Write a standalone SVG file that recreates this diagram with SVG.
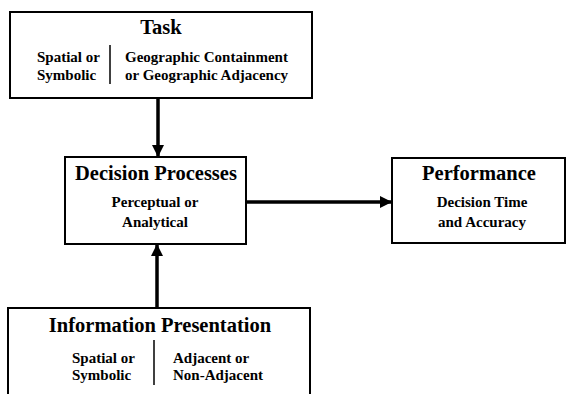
<svg xmlns="http://www.w3.org/2000/svg" width="569" height="394" viewBox="0 0 569 394">
<defs>
<style>
.box{fill:#fff;stroke:#000;stroke-width:2}
.div{stroke:#000;stroke-width:1.5}
text{font-family:'Liberation Serif','DejaVu Serif',serif;font-weight:bold;fill:#000}
.h{font-size:20.5px;text-anchor:middle}
.s{font-size:15px}
.c{text-anchor:middle}
.conn{stroke:#000;stroke-width:3.5;fill:none}
</style>
<marker id="ah" viewBox="0 0 10 10" refX="10" refY="5" markerWidth="16" markerHeight="12" markerUnits="userSpaceOnUse" orient="auto">
<path d="M0,0 L10,5 L0,10 Z" fill="#000"/>
</marker>
</defs>
<rect width="569" height="394" fill="#fff"/>
<g id="connectors">
<line class="conn" x1="158" y1="98" x2="158" y2="157" marker-end="url(#ah)"/>
<line class="conn" x1="157" y1="308" x2="157" y2="244" marker-end="url(#ah)"/>
<line class="conn" x1="246" y1="202" x2="392" y2="202" marker-end="url(#ah)"/>
</g>
<g id="task" font-family="Liberation Serif, serif">
<rect class="box" x="10" y="12" width="302" height="86"/>
<text class="h" x="161" y="34">Task</text>
<line class="div" x1="110" y1="45" x2="110" y2="84"/>
<text class="s" x="37" y="62">Spatial or</text>
<text class="s" x="37" y="80">Symbolic</text>
<text class="s" x="125" y="62">Geographic Containment</text>
<text class="s" x="125" y="80">or Geographic Adjacency</text>
</g>
<g id="decision">
<rect class="box" x="65" y="157" width="181" height="87"/>
<text class="h" x="156" y="180">Decision Processes</text>
<text class="s c" x="155" y="207">Perceptual or</text>
<text class="s c" x="155" y="227">Analytical</text>
</g>
<g id="performance">
<rect class="box" x="392" y="158" width="173" height="85"/>
<text class="h" x="479" y="180">Performance</text>
<text class="s c" x="482" y="207">Decision Time</text>
<text class="s c" x="482" y="227">and Accuracy</text>
</g>
<g id="information">
<path class="box" d="M8,396 L8,308 L310,308 L310,396"/>
<text class="h" x="160" y="332">Information Presentation</text>
<line class="div" x1="154" y1="340" x2="154" y2="385"/>
<text class="s" x="72" y="363">Spatial or</text>
<text class="s" x="72" y="380">Symbolic</text>
<text class="s" x="173" y="363">Adjacent or</text>
<text class="s" x="173" y="380">Non-Adjacent</text>
</g>
</svg>
